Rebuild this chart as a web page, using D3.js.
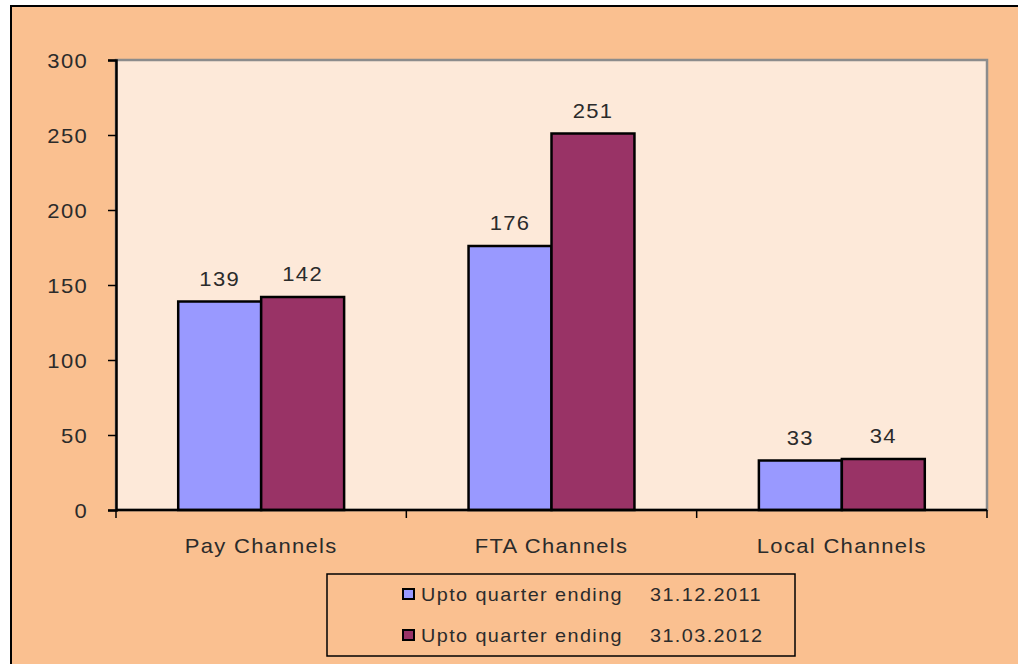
<!DOCTYPE html>
<html>
<head>
<meta charset="utf-8">
<script src="https://cdn.jsdelivr.net/npm/d3@7"></script>
<style>
  html, body { margin: 0; padding: 0; background: #ffffff; }
  svg { display: block; font-family: "Liberation Sans", Arial, sans-serif; }
</style>
</head>
<body>
<svg id="chart" width="1018" height="664"></svg>
<script>
// Channel counts by category for two reporting quarters
const categories = ["Pay Channels", "FTA Channels", "Local Channels"];
const seriesLabels = ["Upto quarter ending", "Upto quarter ending"];
const seriesDates = ["31.12.2011", "31.03.2012"];
const dec2011 = [139, 176, 33];
const mar2012 = [142, 251, 34];
const yTicks = [0, 50, 100, 150, 200, 250, 300];
const colors = ["#9999ff", "#993366"];

const svg = d3.select("#chart");
const W = 1018, H = 664;
const STRETCH = 1.1;    // slightly widened label glyphs
const textColor = "#2b2b2b";

// shared label styling
function wideText(sel, size, anchor, spacing) {
  return sel.attr("font-size", size).attr("fill", textColor).attr("text-anchor", anchor)
    .attr("letter-spacing", spacing);
}

// outer chart frame
svg.append("rect").attr("x", 0).attr("y", 0).attr("width", W).attr("height", H).attr("fill", "#ffffff");
svg.append("rect").attr("x", 11).attr("y", 6).attr("width", W + 20).attr("height", H + 20)
  .attr("fill", "#fac090").attr("stroke", "#000").attr("stroke-width", 2);

const plot = { left: 116, right: 987, top: 60, bottom: 510 };

const x0 = d3.scaleBand().domain(categories).range([plot.left, plot.right]).paddingInner(0).paddingOuter(0);
const x1 = d3.scaleBand().domain([0, 1]).range([0, x0.bandwidth()]).paddingOuter(0.75).paddingInner(0);
const y = d3.scaleLinear().domain([0, 300]).range([plot.bottom, plot.top]);

// plot area
svg.append("rect").attr("x", plot.left).attr("y", plot.top)
  .attr("width", plot.right - plot.left).attr("height", plot.bottom - plot.top)
  .attr("fill", "#fde9d9").attr("stroke", "#8c8c8c").attr("stroke-width", 2.5);

// bars
const rows = categories.map((c, i) => ({ cat: c, vals: [dec2011[i], mar2012[i]] }));
const groups = svg.append("g").selectAll("g").data(rows).join("g")
  .attr("transform", d => `translate(${x0(d.cat)},0)`);

groups.selectAll("rect").data(d => d.vals.map((v, k) => ({ v, k }))).join("rect")
  .attr("x", d => x1(d.k))
  .attr("y", d => y(d.v))
  .attr("width", x1.bandwidth())
  .attr("height", d => y(0) - y(d.v))
  .attr("fill", d => colors[d.k])
  .attr("stroke", "#000").attr("stroke-width", 2.5);

// value labels above bars
groups.selectAll("text").data(d => d.vals.map((v, k) => ({ v, k }))).join("text")
  .call(wideText, 20, "middle", 1.2)
  .attr("transform", d => `translate(${x1(d.k) + x1.bandwidth() / 2},${y(d.v) - 16}) scale(${STRETCH},1)`)
  .text(d => d.v);

// y axis
const yAxis = d3.axisLeft(y).tickValues(yTicks).tickSize(8).tickFormat("");
const gy = svg.append("g").attr("transform", `translate(${plot.left},0)`).call(yAxis);
gy.select(".domain").attr("stroke", "#000").attr("stroke-width", 2.5);
gy.selectAll(".tick line").attr("stroke", "#000").attr("stroke-width", 1.5);
svg.append("g").selectAll("text").data(yTicks).join("text")
  .call(wideText, 20, "end", 1.2)
  .attr("transform", d => `translate(${plot.left - 28},${y(d) + 7.5}) scale(${STRETCH},1)`)
  .text(d => d);

// x axis with ticks at category boundaries
const gx = svg.append("g").attr("transform", `translate(0,${plot.bottom})`);
gx.append("line").attr("x1", plot.left).attr("x2", plot.right)
  .attr("stroke", "#000").attr("stroke-width", 2.5);
const bounds = categories.map(c => x0(c)).concat([plot.right]);
gx.selectAll("line.tk").data(bounds).join("line").attr("class", "tk")
  .attr("x1", d => d).attr("x2", d => d).attr("y1", 0).attr("y2", 8)
  .attr("stroke", "#000").attr("stroke-width", 1.5);
gx.selectAll("text").data(categories).join("text")
  .call(wideText, 20, "middle", 1.2)
  .attr("transform", d => `translate(${x0(d) + x0.bandwidth() / 2},43) scale(${STRETCH},1)`)
  .text(d => d);

// legend
const lg = svg.append("g");
lg.append("rect").attr("x", 327).attr("y", 574).attr("width", 468).attr("height", 82)
  .attr("fill", "none").attr("stroke", "#000").attr("stroke-width", 1.5);
const items = lg.selectAll("g").data(seriesLabels).join("g")
  .attr("transform", (d, i) => `translate(403,${601 + i * 41})`);
items.append("rect").attr("x", 0).attr("y", -12).attr("width", 11).attr("height", 10)
  .attr("fill", (d, i) => colors[i]).attr("stroke", "#000").attr("stroke-width", 2);
items.append("text")
  .call(wideText, 18, "start", 1.3)
  .attr("transform", `translate(18,0) scale(${STRETCH},1)`)
  .text(d => d);
items.append("text")
  .call(wideText, 18, "start", 1.3)
  .attr("transform", `translate(247,0) scale(${STRETCH},1)`)
  .text((d, i) => seriesDates[i]);
</script>
</body>
</html>
